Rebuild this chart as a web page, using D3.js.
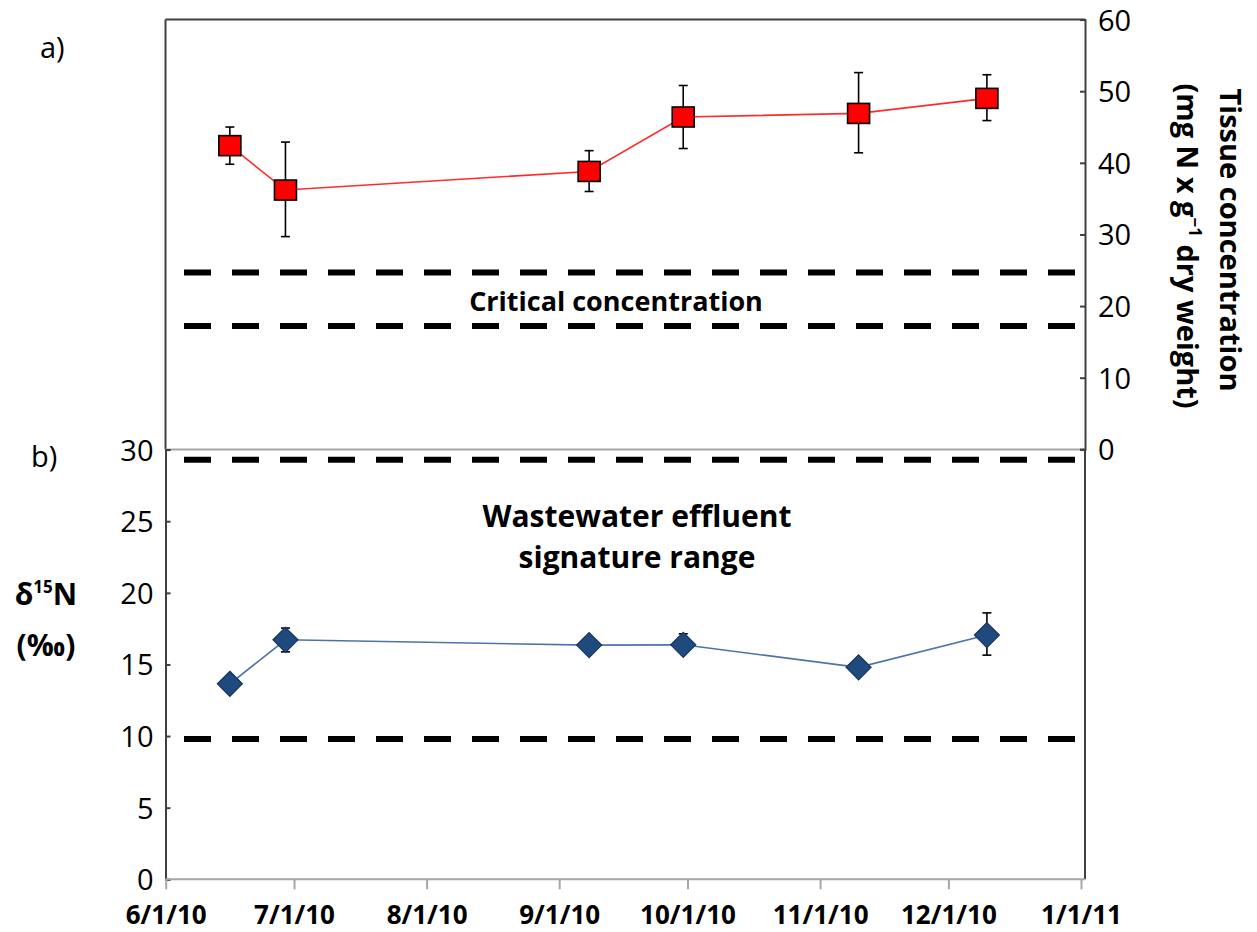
<!DOCTYPE html>
<html><head><meta charset="utf-8">
<script src="https://cdn.jsdelivr.net/npm/d3@7"></script>
<style>
html,body{margin:0;padding:0;background:#fff;}
svg{display:block;font-family:"Open Sans",Lato,sans-serif;}
</style></head>
<body>
<svg id="chart" width="1257" height="932"></svg>
<script>
// ---- data ----
const dates = ["2010-06-16","2010-06-29","2010-09-08","2010-09-30","2010-11-10","2010-12-10"];
const tissueN = [42.4, 36.2, 38.8, 46.4, 46.9, 49.0];
const tissueLow = [39.8, 29.7, 36.0, 42.0, 41.4, 45.9];
const tissueHigh = [45.0, 42.9, 41.7, 50.8, 52.6, 52.3];
const d15N = [13.65, 16.72, 16.35, 16.37, 14.8, 17.05];
const d15NLow = [13.4, 15.88, 16.1, 15.9, 14.6, 15.65];
const d15NHigh = [13.9, 17.54, 16.6, 17.14, 15.0, 18.6];
const criticalRange = [24.7, 17.2];
const effluentRange = [29.3, 9.8];
const xTicks = ["2010-06-01","2010-07-01","2010-08-01","2010-09-01","2010-10-01","2010-11-01","2010-12-01","2011-01-01"];
const topTicks = [0,10,20,30,40,50,60];
const bottomTicks = [0,5,10,15,20,25,30];

const parse = d3.timeParse("%Y-%m-%d");
const fmt = d => (d.getMonth()+1) + "/" + d.getDate() + "/" + String(d.getFullYear()).slice(2);
const pts = dates.map((d,i)=>({date:parse(d), t:tissueN[i], tl:tissueLow[i], th:tissueHigh[i],
  n:d15N[i], nl:d15NLow[i], nh:d15NHigh[i]}));

const FONT = "'Open Sans', Lato, sans-serif";
const svg = d3.select("#chart");
const L = 165.5, R = 1085;
const x = d3.scaleTime().domain([parse(xTicks[0]), parse(xTicks[xTicks.length-1])]).range([165.7, 1081]);
const yT = d3.scaleLinear().domain([0,60]).range([449.3, 19.6]);
const yB = d3.scaleLinear().domain([0,30]).range([879.3, 449.6]);

const dark = "#404040", grey = "#a6a6a6";

// ---- frames ----
svg.append("line").attr("x1",L).attr("x2",L).attr("y1",yT(60)).attr("y2",yT(0)).attr("stroke",dark).attr("stroke-width",2);
svg.append("line").attr("x1",L).attr("x2",R).attr("y1",yT(60)).attr("y2",yT(60)).attr("stroke",dark).attr("stroke-width",2);
svg.append("line").attr("x1",L).attr("x2",R).attr("y1",yB(30)).attr("y2",yB(30)).attr("stroke",grey).attr("stroke-width",2);
svg.append("line").attr("x1",R).attr("x2",R).attr("y1",yB(30)).attr("y2",yB(0)).attr("stroke",dark).attr("stroke-width",2);

// ---- dashed reference lines ----
const dash = (y)=>svg.append("line").attr("x1",184).attr("x2",1081).attr("y1",y).attr("y2",y)
  .attr("stroke","#000").attr("stroke-width",6).attr("stroke-dasharray","27 21");
criticalRange.forEach(v=>dash(yT(v)));
effluentRange.forEach(v=>dash(yB(v)));

// ---- axes ----
const axR = svg.append("g").attr("transform",`translate(${R},0)`)
  .call(d3.axisRight(yT).tickValues(topTicks).tickSize(-5).tickPadding(13));
const axL = svg.append("g").attr("transform",`translate(${L},0)`)
  .call(d3.axisLeft(yB).tickValues(bottomTicks).tickSize(-5).tickPadding(12));
[axR, axL].forEach(a=>{
  a.select(".domain").attr("stroke",dark).attr("stroke-width",2);
  a.selectAll(".tick line").attr("stroke",dark).attr("stroke-width",2);
  a.selectAll(".tick text").attr("font-size",29).attr("font-family",FONT).attr("fill","#000").attr("dy","0.36em");
});
const axB = svg.append("g").attr("transform",`translate(0,${yB(0)})`)
  .call(d3.axisBottom(x).tickValues(xTicks.map(parse)).tickFormat(fmt).tickSize(10).tickPadding(16).tickSizeOuter(0));
axB.select(".domain").attr("stroke",grey).attr("stroke-width",2).attr("d",`M${L},0H${R}`);
axB.selectAll(".tick line").attr("stroke",grey).attr("stroke-width",2);
axB.selectAll(".tick text").attr("font-size",26).attr("font-weight","bold").attr("font-family",FONT).attr("fill","#000");

// ---- top series ----
const lineT = d3.line().x(d=>x(d.date)).y(d=>yT(d.t));
svg.append("path").datum(pts).attr("d",lineT).attr("fill","none").attr("stroke","#ff2a2a").attr("stroke-width",1.6);
const ebT = svg.append("g");
pts.forEach(d=>{
  const cx = x(d.date);
  ebT.append("line").attr("x1",cx).attr("x2",cx).attr("y1",yT(d.tl)).attr("y2",yT(d.th)).attr("stroke","#000").attr("stroke-width",1.6);
  [d.tl,d.th].forEach(v=>ebT.append("line").attr("x1",cx-4.5).attr("x2",cx+4.5).attr("y1",yT(v)).attr("y2",yT(v)).attr("stroke","#000").attr("stroke-width",1.6));
});
svg.append("g").selectAll("rect").data(pts).join("rect")
  .attr("x",d=>x(d.date)-11).attr("y",d=>yT(d.t)-10).attr("width",22).attr("height",20)
  .attr("fill","#ff0000").attr("stroke","#000").attr("stroke-width",1.6);

// ---- bottom series ----
const lineB = d3.line().x(d=>x(d.date)).y(d=>yB(d.n));
svg.append("path").datum(pts).attr("d",lineB).attr("fill","none").attr("stroke","#4f72a8").attr("stroke-width",1.6);
const ebB = svg.append("g");
pts.forEach(d=>{
  const cx = x(d.date);
  ebB.append("line").attr("x1",cx).attr("x2",cx).attr("y1",yB(d.nl)).attr("y2",yB(d.nh)).attr("stroke","#000").attr("stroke-width",1.6);
  [d.nl,d.nh].forEach(v=>ebB.append("line").attr("x1",cx-4.5).attr("x2",cx+4.5).attr("y1",yB(v)).attr("y2",yB(v)).attr("stroke","#000").attr("stroke-width",1.6));
});
svg.append("g").selectAll("path").data(pts).join("path")
  .attr("d",d=>{const cx=x(d.date), cy=yB(d.n), r=12.5; return `M${cx},${cy-r}L${cx+r},${cy}L${cx},${cy+r}L${cx-r},${cy}Z`;})
  .attr("fill","#1f4a7e").attr("stroke","#15345c").attr("stroke-width",1.2);

// ---- annotations ----
const txt = (s,xx,yy,opt={})=>svg.append("text").attr("x",xx).attr("y",yy).text(s)
  .attr("font-family",FONT)
  .attr("font-size",opt.size||28).attr("font-weight",opt.bold?"bold":"normal")
  .attr("text-anchor",opt.anchor||"middle").attr("fill","#000");
txt("Critical concentration", 616, 311, {bold:true, size:27});
txt("Wastewater effluent", 637, 527, {bold:true, size:30});
txt("signature range", 637, 568, {bold:true, size:30});
txt("a)", 40, 58, {anchor:"start", size:29});
txt("b)", 31, 467, {anchor:"start", size:29});

// left y label
const dl = svg.append("text").attr("x",46).attr("y",605).attr("text-anchor","middle").attr("font-family",FONT)
  .attr("font-size",30).attr("font-weight","bold").attr("fill","#000");
dl.append("tspan").text("δ");
dl.append("tspan").text("15").attr("font-size",17).attr("dy",-12);
dl.append("tspan").text("N").attr("dy",12);
txt("(‰)", 46, 656, {bold:true, size:30});

// right y label
svg.append("text").attr("transform","translate(1230,240) rotate(90)").attr("dy","0.36em").attr("font-family",FONT)
  .attr("text-anchor","middle").attr("font-size",29).attr("font-weight","bold").attr("fill","#000")
  .text("Tissue concentration");
const rl = svg.append("text").attr("transform","translate(1187,246) rotate(90)").attr("dy","0.36em").attr("font-family",FONT)
  .attr("text-anchor","middle").attr("font-size",29).attr("font-weight","bold").attr("fill","#000");
rl.append("tspan").text("(mg N x g");
rl.append("tspan").text("−1").attr("font-size",17).attr("dy",-12);
rl.append("tspan").text(" dry weight)").attr("dy",12);
</script>
</body></html>
